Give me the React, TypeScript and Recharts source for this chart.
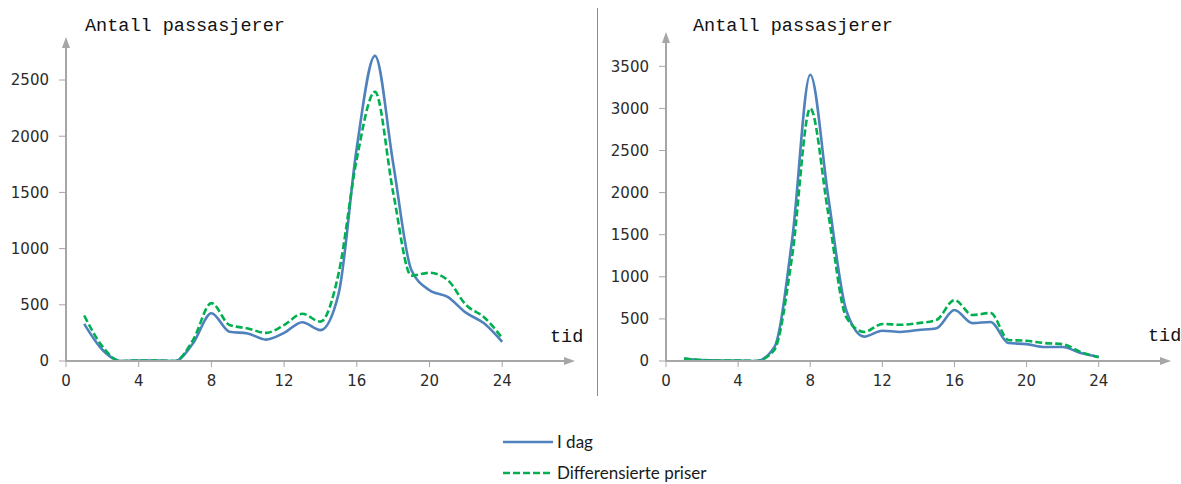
import { CartesianGrid, Line, LineChart, XAxis, YAxis } from "recharts";

// hours of the day
const hours = [1, 2, 3, 4, 5, 6, 7, 8, 9, 10, 11, 12, 13, 14, 15, 16, 17, 18, 19, 20, 21, 22, 23, 24];

// left panel (afternoon peak)
const leftIdag = [330, 100, 0, 5, 5, 0, 160, 425, 260, 245, 190, 250, 345, 275, 600, 1900, 2715, 1760, 810, 630, 570, 430, 335, 170];
const leftDiff = [405, 130, 0, 5, 5, 0, 190, 515, 320, 290, 250, 320, 420, 350, 780, 1800, 2395, 1500, 760, 785, 720, 500, 390, 205];

// right panel (morning peak)
const rightIdag = [30, 10, 5, 5, 0, 160, 1450, 3400, 1950, 600, 290, 360, 345, 368, 390, 605, 450, 463, 213, 200, 166, 166, 95, 48];
const rightDiff = [30, 10, 5, 5, 0, 130, 1250, 3000, 1750, 520, 345, 440, 430, 450, 487, 724, 546, 570, 250, 240, 213, 200, 107, 45];

const xTicks = [0, 4, 8, 12, 16, 20, 24];
const leftYTicks = [0, 500, 1000, 1500, 2000, 2500];
const rightYTicks = [0, 500, 1000, 1500, 2000, 2500, 3000, 3500];

const seriesNames = ["I dag", "Differensierte priser"];
const seriesColors = ["#4f81bd", "#00b050"];

const AXIS = "#a6a6a6";
const TICK_FONT = "DejaVu Sans";

function buildRows(a: number[], b: number[]) {
  return hours.map((h, i) => ({ hour: h, idag: a[i], diff: b[i] }));
}

function XTick(props: any) {
  const { x, y, payload } = props;
  return (
    <text x={x} y={y} dy="0.75em" textAnchor="middle" fontFamily={TICK_FONT} fontSize={15} fill="#2b2b2b">
      {payload.value}
    </text>
  );
}

function YTick(props: any) {
  const { x, y, payload } = props;
  return (
    <text x={x} y={y} dy="0.36em" textAnchor="end" fontFamily={TICK_FONT} fontSize={15} fill="#2b2b2b">
      {payload.value}
    </text>
  );
}

type PanelProps = {
  id: string;
  rows: Array<{ hour: number; idag: number; diff: number }>;
  yTicks: number[];
  yMax: number;
  width: number;
  yAxisWidth: number;
  marginRight: number;
  marginTop: number;
};

function Panel({ id, rows, yTicks, yMax, width, yAxisWidth, marginRight, marginTop }: PanelProps) {
  const marker = `url(#arrow-${id})`;
  return (
    <LineChart
      width={width}
      height={400}
      data={rows}
      margin={{ top: marginTop, right: marginRight, left: 0, bottom: 0 }}
    >
      <defs>
        <marker
          id={`arrow-${id}`}
          viewBox="0 0 11 8"
          refX={0}
          refY={4}
          markerWidth={11}
          markerHeight={8}
          markerUnits="userSpaceOnUse"
          orient="auto-start-reverse"
        >
          <path d="M0,0 L11,4 L0,8 z" fill={AXIS} />
        </marker>
      </defs>
      <CartesianGrid horizontal={false} vertical={false} />
      <XAxis
        dataKey="hour"
        type="number"
        domain={[0, 27.4]}
        ticks={xTicks}
        allowDataOverflow
        height={39}
        tickSize={6}
        tickMargin={8}
        tick={<XTick />}
        stroke={AXIS}
        axisLine={{ stroke: AXIS, strokeWidth: 2, markerEnd: marker }}
        tickLine={{ stroke: AXIS }}
      />
      <YAxis
        type="number"
        domain={[0, yMax]}
        ticks={yTicks}
        allowDataOverflow
        width={yAxisWidth}
        tickSize={7}
        tickMargin={10}
        tick={<YTick />}
        stroke={AXIS}
        axisLine={{ stroke: AXIS, strokeWidth: 2, markerStart: marker }}
        tickLine={{ stroke: AXIS }}
      />
      <Line
        type="monotone"
        dataKey="idag"
        name={seriesNames[0]}
        stroke={seriesColors[0]}
        strokeWidth={2.6}
        dot={false}
        isAnimationActive={false}
      />
      <Line
        type="monotone"
        dataKey="diff"
        name={seriesNames[1]}
        stroke={seriesColors[1]}
        strokeWidth={2.6}
        strokeDasharray="7 3"
        dot={false}
        isAnimationActive={false}
      />
    </LineChart>
  );
}

const titleStyle: React.CSSProperties = {
  position: "absolute",
  fontFamily: "Liberation Mono, monospace",
  fontSize: 18.5,
  color: "#111",
  whiteSpace: "nowrap",
  lineHeight: 1,
};

export default function App() {
  return (
    <div
      style={{
        position: "absolute",
        left: 0,
        top: 0,
        width: 1181,
        height: 484,
        background: "#fff",
        overflow: "hidden",
      }}
    >
      <div style={{ position: "absolute", left: 0, top: 0 }}>
        <Panel
          id="l"
          rows={buildRows(leftIdag, leftDiff)}
          yTicks={leftYTicks}
          yMax={2785}
          width={598}
          yAxisWidth={66}
          marginRight={34}
          marginTop={48}
        />
      </div>
      <div style={{ position: "absolute", left: 598, top: 0 }}>
        <Panel
          id="r"
          rows={buildRows(rightIdag, rightDiff)}
          yTicks={rightYTicks}
          yMax={3777}
          width={583}
          yAxisWidth={68}
          marginRight={21}
          marginTop={43}
        />
      </div>

      {/* divider between the two panels */}
      <div style={{ position: "absolute", left: 597, top: 8, width: 1, height: 388, background: "#8c8c8c" }} />

      <span style={{ ...titleStyle, left: 85, top: 18 }}>Antall passasjerer</span>
      <span style={{ ...titleStyle, left: 693, top: 18 }}>Antall passasjerer</span>
      <span style={{ ...titleStyle, left: 550, top: 329 }}>tid</span>
      <span style={{ ...titleStyle, left: 1148, top: 328 }}>tid</span>

      <div style={{ position: "absolute", left: 503, top: 426, fontFamily: "Lato", fontSize: 17, color: "#1a1a1a" }}>
        {seriesNames.map((name, i) => (
          <div key={name} style={{ display: "flex", alignItems: "center", height: 31 }}>
            <svg width={50} height={6} style={{ marginRight: 4 }}>
              <line
                x1={0}
                y1={3}
                x2={50}
                y2={3}
                stroke={seriesColors[i]}
                strokeWidth={2.6}
                strokeDasharray={i === 1 ? "7 3" : undefined}
              />
            </svg>
            <span>{name}</span>
          </div>
        ))}
      </div>
    </div>
  );
}
